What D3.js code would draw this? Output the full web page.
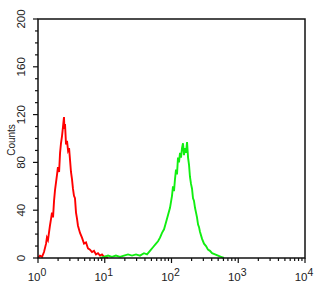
<!DOCTYPE html>
<html>
<head>
<meta charset="utf-8">
<script src="https://cdn.jsdelivr.net/npm/d3@7"></script>
<style>
  body { margin: 0; background: #fff; }
  svg { display: block; font-family: "Liberation Sans", Arial, sans-serif; }
</style>
</head>
<body>
<svg width="325" height="291"></svg>
<script>
// red histogram: fluorescence intensity and counts
var redX = [1.0, 1.07, 1.15, 1.23, 1.32, 1.36, 1.41, 1.51, 1.57, 1.62, 1.68, 1.74, 1.80, 1.86, 1.93, 1.99,
    2.07, 2.14, 2.21, 2.29, 2.37, 2.45, 2.49, 2.54, 2.63, 2.72, 2.82, 2.92, 3.02, 3.12, 3.23, 3.34,
    3.46, 3.58, 3.71, 3.84, 3.97, 4.26, 4.56, 4.89, 5.24, 5.61, 6.01, 6.44, 6.90, 7.39, 7.92, 8.49,
    9.10, 9.75, 10.4, 11.2];
var redY = [0, 2, 1, 5, 12, 17, 15, 27, 33, 38, 34, 48, 57, 63, 70, 76,
    72, 88, 96, 102, 110, 118, 108, 112, 95, 98, 90, 92, 82, 72, 66, 58,
    52, 50, 38, 33, 27, 21, 17, 12, 13, 8, 7, 5, 6, 3, 4, 2,
    3, 1, 1, 0];

// green histogram
var greenX = [8.5, 9.75, 11.2, 12.8, 14.7, 16.9, 19.4, 22.3, 25.6, 29.4, 33.7, 38.7, 43.0, 47.6, 52.8, 58.6,
    62.8, 67.3, 72.1, 77.3, 82.8, 88.7, 95.0, 101.7, 105.3, 109, 112.8, 116.8, 120.9, 125.1, 129.5, 134.1,
    138.8, 143.7, 148.7, 154, 159, 165, 171, 177, 183, 189, 196, 203, 210, 217, 225, 233,
    241, 250, 258, 267, 287, 307, 329, 352, 377, 405, 449, 498, 552, 612];
var greenY = [0, 1, 2, 1, 2, 1, 2, 3, 2, 3, 2, 4, 3, 6, 9, 12,
    14, 17, 21, 24, 30, 36, 42, 52, 60, 56, 66, 74, 70, 84, 80, 88,
    84, 92, 96, 86, 92, 88, 97, 84, 78, 68, 62, 58, 50, 48, 42, 38,
    34, 28, 26, 22, 16, 12, 10, 7, 6, 4, 3, 2, 1, 0];

var yTicks = [0, 40, 80, 120, 160, 200];
var xTicks = [1, 10, 100, 1000, 10000];
var xExp = ["0", "1", "2", "3", "4"];

var svg = d3.select("svg");
var mLeft = 38, mRight = 305, mTop = 19, mBottom = 258;

var x = d3.scaleLog().domain([1, 10000]).range([mLeft, mRight]);
var y = d3.scaleLinear().domain([0, 200]).range([mBottom, mTop]);

var line = d3.line()
    .x(function(d) { return x(d[0]); })
    .y(function(d) { return y(d[1]); });

svg.append("path")
    .datum(d3.zip(redX, redY))
    .attr("d", line)
    .attr("fill", "none")
    .attr("stroke", "#ff0000")
    .attr("stroke-width", 1.9);

svg.append("path")
    .datum(d3.zip(greenX, greenY))
    .attr("d", line)
    .attr("fill", "none")
    .attr("stroke", "#11ee11")
    .attr("stroke-width", 1.9);

// frame
svg.append("rect")
    .attr("x", mLeft).attr("y", mTop)
    .attr("width", mRight - mLeft).attr("height", mBottom - mTop)
    .attr("fill", "none")
    .attr("stroke", "#111")
    .attr("stroke-width", 1.5);

// y axis
var minorY = d3.range(0, 201, 10);
svg.append("g").selectAll("line")
    .data(minorY)
    .enter().append("line")
    .attr("x1", mLeft)
    .attr("x2", function(d) { return d % 40 === 0 ? mLeft - 5 : mLeft - 3; })
    .attr("y1", function(d) { return y(d); })
    .attr("y2", function(d) { return y(d); })
    .attr("stroke", "#111")
    .attr("stroke-width", 1.2);

svg.append("g").selectAll("text")
    .data(yTicks)
    .enter().append("text")
    .attr("transform", function(d) { return "translate(25," + y(d) + ") rotate(-90)"; })
    .attr("text-anchor", "middle")
    .attr("font-size", 11.5)
    .attr("fill", "#222")
    .text(function(d) { return d; });

svg.append("text")
    .attr("transform", "translate(15,140) rotate(-90)")
    .attr("text-anchor", "middle")
    .attr("font-size", 10)
    .attr("fill", "#222")
    .text("Counts");

// x axis (log ticks)
var minorX = [];
for (var p = 0; p < 4; p++) {
    for (var k = 1; k < 10; k++) minorX.push(k * Math.pow(10, p));
}
minorX.push(10000);
svg.append("g").selectAll("line")
    .data(minorX)
    .enter().append("line")
    .attr("x1", function(d) { return x(d); })
    .attr("x2", function(d) { return x(d); })
    .attr("y1", mBottom)
    .attr("y2", function(d) { return xTicks.indexOf(d) >= 0 ? mBottom + 5 : mBottom + 3; })
    .attr("stroke", "#111")
    .attr("stroke-width", 1.2);

var xl = svg.append("g").selectAll("text")
    .data(xTicks)
    .enter().append("text")
    .attr("x", function(d) { return x(d) - 1; })
    .attr("y", 281)
    .attr("text-anchor", "middle")
    .attr("font-size", 11.5)
    .attr("fill", "#222");
xl.append("tspan").text("10");
xl.append("tspan")
    .attr("dy", -5)
    .attr("font-size", 10.5)
    .text(function(d, i) { return xExp[i]; });
</script>
</body>
</html>
